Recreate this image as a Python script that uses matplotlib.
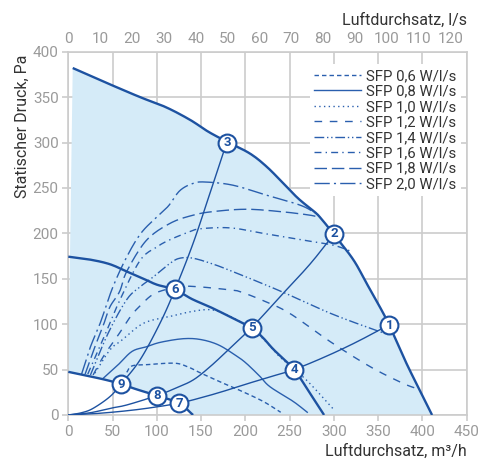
import matplotlib
matplotlib.use("Agg")
import matplotlib.pyplot as plt
import numpy as np

plt.rcParams['font.family'] = ['Roboto', 'DejaVu Sans']

# ---------------- data ----------------
# envelope (max fan curve), m3/h vs Pa
env_x = [5, 40, 81, 110, 137.5, 158, 179, 205, 224, 243, 258, 270, 279, 285, 300, 322, 337, 352, 362.6, 382, 397, 411]
env_y = [382, 367, 350, 339, 325, 312, 301, 288, 273.5, 255, 240, 230, 223, 217, 199, 171, 145, 119, 99, 57, 27.5, 0]

# medium fan curve (thick)
fanA_x = [0, 25, 47, 66, 85, 100, 120.5, 140, 160, 185, 207, 220, 232, 255, 273, 289]
fanA_y = [174.3, 171, 166, 158, 150, 143.5, 138, 127.5, 119, 107, 96, 85, 72, 50, 24, 0]

# low fan curve (thick)
fanB_x = [0, 39.5, 59.5, 77, 100, 125, 141]
fanB_y = [47.5, 39.3, 34, 28.3, 21.3, 13, 0]

# system curves (thin)
sys1_x = [0, 30, 60, 90, 125, 150, 175, 201, 228, 255, 290, 325, 362]
sys1_y = [0, 1.5, 4, 7.5, 13, 19, 26, 34, 42, 50, 64, 80, 99]
sys2_x = [0, 25, 47, 66, 100, 120, 141, 160, 180, 207, 240, 273, 300]
sys2_y = [0, 2.5, 7.3, 11, 21.3, 29, 38.5, 53, 71, 96, 131, 166, 199]
sys3_x = [0, 15, 28, 47, 59.5, 81, 103.6, 120.5, 141, 160, 179]
sys3_y = [0, 2.5, 7.3, 20.2, 34, 60.6, 101, 138, 189, 244, 300]

# SFP curves
sfp_labels = ['SFP 0,6 W/l/s', 'SFP 0,8 W/l/s', 'SFP 1,0 W/l/s', 'SFP 1,2 W/l/s',
              'SFP 1,4 W/l/s', 'SFP 1,6 W/l/s', 'SFP 1,8 W/l/s', 'SFP 2,0 W/l/s']
sfp06_x = [66, 72, 90, 120, 135, 150, 175, 194, 220, 240]
sfp06_y = [47, 54, 55.5, 57, 53, 46, 35, 27, 15, 3]
sfp08_x = [39, 56, 72, 88, 104, 130, 150, 170, 190, 201, 216, 228, 254, 270]
sfp08_y = [40, 55, 70, 75, 80, 84, 83, 77, 65, 57, 43, 31, 15, 3]
sfp10_x = [30, 47, 60, 85, 115, 140, 160, 175, 190, 207, 218, 232, 240, 269, 299]
sfp10_y = [46, 71.6, 82, 101, 108.5, 114, 116, 112, 105, 95, 86, 71.6, 63, 38.5, 7]
sfp12_x = [28, 40, 55, 70, 81, 98, 125, 145, 183, 194, 220, 250, 296, 341, 378, 397]
sfp12_y = [44, 65, 86, 108, 120, 134, 141, 141.3, 137.7, 135.8, 126, 112, 80.7, 53.2, 34.9, 28]
sfp14_x = [25, 45, 66, 81, 96, 115, 126, 141, 164, 183, 201, 243, 296, 341, 360]
sfp14_y = [44, 90, 127, 141, 152, 167, 172.6, 172.6, 166, 159, 152, 135, 112, 95.5, 89]
sfp16_x = [22, 40, 58, 81, 100, 115, 135, 149, 183, 220, 262, 299, 320]
sfp16_y = [45, 85, 126, 170, 185, 193, 201, 205, 206, 200, 193, 187, 180]
sfp18_x = [19, 30, 40, 47, 58, 66, 88, 115, 141, 164, 201, 239, 273, 285]
sfp18_y = [45, 75, 100, 119, 136, 158, 192, 211, 220, 224, 226.5, 224, 220, 217]
sfp20_x = [15, 25, 36, 50, 66, 82, 100, 113, 126, 141, 155, 186, 224, 262, 280]
sfp20_y = [45, 75, 101, 140, 174, 200, 218, 230, 247, 255, 256.5, 253, 242, 231, 222]

# operating points
pt_labels = ['1', '2', '3', '4', '5', '6', '7', '8', '9']
pt_x = [362.6, 300.5, 179.3, 255, 207.5, 120.5, 125.4, 99.9, 59.5]
pt_y = [99, 199.5, 300, 49.6, 96, 138.4, 12.9, 21.3, 34]

x_ticks = list(range(0, 451, 50))
y_ticks = list(range(0, 401, 50))
top_ticks = list(range(0, 121, 10))


def smooth(xs, ys, n=12):
    """Catmull-Rom path through the given points (drawing only)."""
    p = np.column_stack([xs, ys]).astype(float)
    if len(p) < 3:
        return p[:, 0], p[:, 1]
    ext = np.vstack([2 * p[0] - p[1], p, 2 * p[-1] - p[-2]])
    out = []
    t = np.linspace(0, 1, n, endpoint=False)[:, None]
    for i in range(1, len(ext) - 2):
        p0, p1, p2, p3 = ext[i - 1], ext[i], ext[i + 1], ext[i + 2]
        seg = 0.5 * ((2 * p1) + (-p0 + p2) * t + (2 * p0 - 5 * p1 + 4 * p2 - p3) * t ** 2
                     + (-p0 + 3 * p1 - 3 * p2 + p3) * t ** 3)
        out.append(seg)
    out.append(p[-1][None, :])
    out = np.vstack(out)
    return out[:, 0], out[:, 1]


# ---------------- styling ----------------
C_LINE = '#1d52a1'
C_SFP = '#2a5fae'
C_FILL = '#d5ebf8'
C_GRID = '#cccccc'
C_TICK = '#9a9a9a'
C_LABEL = '#333333'

fig = plt.figure(figsize=(4.81, 4.59), dpi=100)
ax = fig.add_axes([0.142, 0.0959, 0.828, 0.7915])

ex, ey = smooth(env_x, env_y)
bx, by = smooth(fanB_x, fanB_y)
# fill area: envelope down to x axis, excluding region under low fan curve
ax.fill(np.concatenate([ex, bx[::-1]]), np.concatenate([ey, by[::-1]]), color=C_FILL, lw=0, zorder=1)

ax.set_xlim(0, 450)
ax.set_ylim(0, 400)
ax.set_xticks(x_ticks)
ax.set_yticks(y_ticks)
ax.grid(True, color=C_GRID, lw=1.2, zorder=0)
ax.set_axisbelow(True)
for s in ax.spines.values():
    s.set_color(C_GRID)
    s.set_linewidth(1.2)
ax.tick_params(axis='both', colors=C_GRID, labelcolor=C_TICK, labelsize=11, length=4, width=1.2, pad=3)

# SFP curves
sfp_styles = [
    (0, (3.2, 2.2)),
    '-',
    (0, (1, 2.4)),
    (0, (5.5, 5.5)),
    (0, (7, 2, 1, 2, 1, 2)),
    (0, (5, 3, 1, 3)),
    (0, (9, 3.5)),
    (0, (11, 3, 1.5, 3)),
]
sfp_data = [(sfp06_x, sfp06_y), (sfp08_x, sfp08_y), (sfp10_x, sfp10_y), (sfp12_x, sfp12_y),
            (sfp14_x, sfp14_y), (sfp16_x, sfp16_y), (sfp18_x, sfp18_y), (sfp20_x, sfp20_y)]
handles = []
for (xs, ys), ls, lab in zip(sfp_data, sfp_styles, sfp_labels):
    sx, sy = smooth(xs, ys)
    h, = ax.plot(sx, sy, color=C_SFP, lw=1.0, ls=ls, label=lab, zorder=3)
    handles.append(h)

# system curves
for xs, ys in [(sys1_x, sys1_y), (sys2_x, sys2_y), (sys3_x, sys3_y)]:
    sx, sy = smooth(xs, ys)
    ax.plot(sx, sy, color=C_LINE, lw=1.0, zorder=4)

# fan curves (thick)
ax.plot(ex, ey, color=C_LINE, lw=1.7, zorder=5, solid_capstyle='butt')
ax_, ay_ = smooth(fanA_x, fanA_y)
ax.plot(ax_, ay_, color=C_LINE, lw=1.7, zorder=5, solid_capstyle='butt')
ax.plot(bx, by, color=C_LINE, lw=1.7, zorder=5, solid_capstyle='butt')

# operating points
ax.scatter(pt_x, pt_y, s=165, facecolor='white', edgecolor=C_LINE, linewidths=1.5, zorder=6, clip_on=False)
for lab, x, y in zip(pt_labels, pt_x, pt_y):
    ax.text(x, y, lab, ha='center', va='center', color=C_LINE, fontsize=9.5,
            fontweight='bold', zorder=7)

# legend
leg = ax.legend(handles=handles, loc='upper right', bbox_to_anchor=(0.985, 0.965),
                frameon=True, fontsize=10.7, handlelength=3.1, handletextpad=0.35,
                labelspacing=0.1, borderpad=0.3, borderaxespad=0.0)
leg.get_frame().set_facecolor('white')
leg.get_frame().set_edgecolor('none')
leg.get_frame().set_alpha(1.0)
leg.get_frame().set_boxstyle('square', pad=0.0)
for t in leg.get_texts():
    t.set_color(C_LABEL)
leg.set_zorder(8)

# top axis in l/s
sec = ax.secondary_xaxis('top', functions=(lambda q: q / 3.6, lambda q: q * 3.6))
sec.set_xticks(top_ticks)
sec.tick_params(axis='x', length=0, labelcolor=C_TICK, labelsize=11, pad=4)
sec.spines['top'].set_visible(False)

# axis titles
fig.text(0.970, 1 - 20 / 459, 'Luftdurchsatz, l/s', ha='right', va='center', fontsize=11.5, color=C_LABEL)
fig.text(0.970, 1 - 451 / 459, 'Luftdurchsatz, m³/h', ha='right', va='center', fontsize=11.5, color=C_LABEL)
fig.text(22 / 481, 1 - 126 / 459, 'Statischer Druck, Pa', ha='center', va='center', rotation=90,
         fontsize=11.5, color=C_LABEL)

fig.savefig('out.png', dpi=100)
